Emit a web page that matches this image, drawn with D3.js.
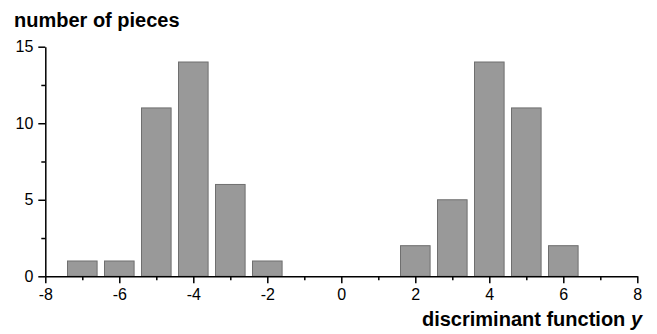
<!DOCTYPE html>
<html>
<head>
<meta charset="utf-8">
<script src="https://cdn.jsdelivr.net/npm/d3@7"></script>
<style>
  body { margin: 0; background: #fff; }
  svg text { font-family: Arial, "Liberation Sans", Helvetica, sans-serif; }
  .axis path, .axis line { stroke: #000; stroke-width: 1.5; }
  .axis text { font-size: 16px; fill: #000; }
  .bar { fill: #999999; stroke: #6f6f6f; stroke-width: 1; }
</style>
</head>
<body>
<div id="chart"></div>
<script>
// bin centres and counts
const binCenters = [-7, -6, -5, -4, -3, -2, 2, 3, 4, 5, 6];
const counts     = [ 1,  1, 11, 14,  6,  1, 2, 5, 14, 11, 2];
const xMajorTicks = [-8, -6, -4, -2, 0, 2, 4, 6, 8];
const xMinorTicks = [-7, -5, -3, -1, 1, 3, 5, 7];
const yMajorTicks = [0, 5, 10, 15];
const yMinorTicks = [2.5, 7.5, 12.5];

const W = 657, H = 334;
const margin = {top: 46.7, right: 20, bottom: 58, left: 45.3};
const width = 637.3 - margin.left;
const height = 276.3 - margin.top;

const svg = d3.select("#chart").append("svg")
    .attr("width", W)
    .attr("height", H);

const g = svg.append("g")
    .attr("transform", "translate(" + margin.left + "," + margin.top + ")");

const x = d3.scaleLinear().domain([-8, 8]).range([0, width]);
const y = d3.scaleLinear().domain([0, 15]).range([height, 0]);

const barW = x(0.8) - x(0);

const data = binCenters.map((c, i) => ({c: c, n: counts[i]}));

g.selectAll(".bar")
    .data(data)
    .enter().append("rect")
    .attr("class", "bar")
    .attr("x", d => x(d.c) - barW / 2)
    .attr("width", barW)
    .attr("y", d => y(d.n))
    .attr("height", d => y(0) - y(d.n));

// x axis: minor ticks then major ticks with labels
g.append("g")
    .attr("class", "x axis minor")
    .attr("transform", "translate(0," + height + ")")
    .call(d3.axisBottom(x).tickValues(xMinorTicks).tickSize(4).tickFormat(""));

g.append("g")
    .attr("class", "x axis")
    .attr("transform", "translate(0," + height + ")")
    .call(d3.axisBottom(x).tickValues(xMajorTicks).tickSize(7).tickSizeOuter(0).tickPadding(5)
        .tickFormat(d => d < 0 ? "-" + Math.abs(d) : d));

// y axis
g.append("g")
    .attr("class", "y axis minor")
    .call(d3.axisLeft(y).tickValues(yMinorTicks).tickSize(4).tickFormat(""));

g.append("g")
    .attr("class", "y axis")
    .call(d3.axisLeft(y).tickValues(yMajorTicks).tickSize(7).tickSizeOuter(0).tickPadding(5));

g.selectAll(".minor path").remove();

// titles
svg.append("text")
    .attr("x", 14)
    .attr("y", 27)
    .style("font-size", "20px")
    .style("font-weight", "bold")
    .text("number of pieces");

const xl = svg.append("text")
    .attr("x", 642)
    .attr("y", 326)
    .style("text-anchor", "end")
    .style("font-size", "20px")
    .style("font-weight", "bold");
xl.append("tspan").text("discriminant function ");
xl.append("tspan").style("font-style", "italic").text("y");
</script>
</body>
</html>
